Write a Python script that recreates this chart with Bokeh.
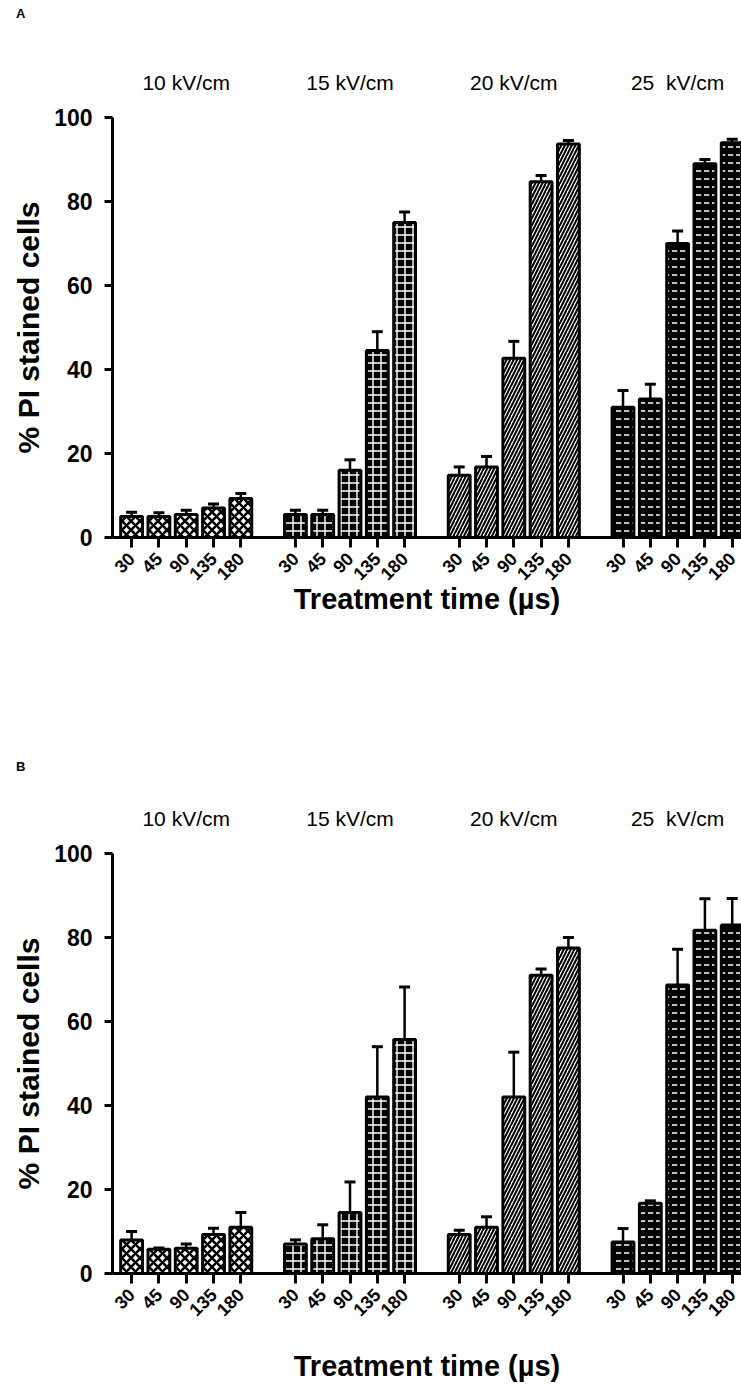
import math
from bokeh.plotting import figure
from bokeh.models import Range1d, FixedTicker, ColumnDataSource, Whisker, TeeHead, LinearAxis, Div
from bokeh.layouts import column
from bokeh.embed import file_html
from bokeh.resources import INLINE

# ---------------- data ----------------
fields = ["10 kV/cm", "15 kV/cm", "20 kV/cm", "25\u00a0 kV/cm"]
times = ["30", "45", "90", "135", "180"]

# Panel A: % PI stained cells (mean) and error
a_10 = [5.0, 5.0, 5.5, 7.0, 9.3]
a_10_err = [1.0, 0.9, 1.0, 1.0, 1.2]
a_15 = [5.5, 5.5, 16.0, 44.5, 75.0]
a_15_err = [1.0, 1.0, 2.5, 4.5, 2.5]
a_20 = [14.8, 16.8, 42.7, 84.7, 93.7]
a_20_err = [2.0, 2.5, 4.0, 1.5, 0.8]
a_25 = [31.0, 33.0, 70.0, 89.0, 94.0]
a_25_err = [4.0, 3.5, 3.0, 1.0, 0.8]

# Panel B
b_10 = [8.0, 5.8, 6.0, 9.3, 11.0]
b_10_err = [2.0, 0.3, 1.0, 1.5, 3.5]
b_15 = [7.0, 8.3, 14.5, 42.0, 55.7]
b_15_err = [1.0, 3.3, 7.3, 12.0, 12.5]
b_20 = [9.3, 11.0, 42.0, 71.0, 77.5]
b_20_err = [1.0, 2.5, 10.7, 1.5, 2.5]
b_25 = [7.5, 16.7, 68.7, 81.7, 83.0]
b_25_err = [3.2, 0.6, 8.5, 7.5, 6.3]

y_ticks = [0, 20, 40, 60, 80, 100]

styles = [
    dict(fill_color="white", hatch_pattern="diagonal_cross", hatch_color="black", hatch_weight=2.6, hatch_scale=9),
    dict(fill_color="black", hatch_pattern="cross", hatch_color="white", hatch_weight=1.4, hatch_scale=8),
    dict(fill_color="white", hatch_pattern="right_diagonal_line", hatch_color="black", hatch_weight=2.0, hatch_scale=7),
    dict(fill_color="black", hatch_pattern="horizontal_dash", hatch_color="white", hatch_weight=1.5, hatch_scale=8),
]

FONT = "Liberation Sans"
n_t = len(times)
slot = n_t + 1


def letter_div(letter, height, top):
    html = (f'<span style="position:absolute; left:16px; top:{top}px; '
            f'font-family:\'{FONT}\'; font-weight:bold; font-size:13px; '
            f'line-height:15px; color:black;">{letter}</span>')
    return Div(text=html, width=120, height=height, margin=(0, 0, 0, 0))


def make_panel(groups, errs, height, top, bottom, xlabel_standoff):
    p = figure(width=741, height=height, output_backend="svg", toolbar_location=None,
               x_range=Range1d(-0.7, 22.34), y_range=Range1d(0, 100),
               min_border_left=112, min_border_right=0, min_border_top=top,
               min_border_bottom=bottom)
    p.xgrid.visible = False
    p.ygrid.visible = False
    p.outline_line_color = None
    p.background_fill_color = "white"

    xa = p.below[0]
    ya = p.left[0]

    tick_pos = []
    overrides = {}
    grp_pos = []
    grp_over = {}
    for g, (vals, err) in enumerate(zip(groups, errs)):
        xs = [g * slot + i for i in range(n_t)]
        tops = [v + e for v, e in zip(vals, err)]
        src = ColumnDataSource(dict(x=xs, top=vals, up=tops))
        p.vbar(x="x", top="top", bottom=0, width=0.8, source=src,
               line_color="black", line_width=3, **styles[g])
        w = Whisker(base="x", lower="top", upper="up", source=src, dimension="height",
                    line_color="black", line_width=2.5, level="overlay",
                    upper_head=TeeHead(size=11, line_width=3, line_color="black"),
                    lower_head=None)
        p.add_layout(w)
        for x, t in zip(xs, times):
            tick_pos.append(x)
            overrides[x] = t
        c = (xs[0] + xs[-1]) // 2
        grp_pos.append(c)
        grp_over[c] = fields[g]

    # group labels on top
    top_ax = LinearAxis(ticker=FixedTicker(ticks=grp_pos), major_label_overrides=grp_over,
                        axis_line_color=None, major_tick_line_color=None,
                        minor_tick_line_color=None, major_label_standoff=18,
                        major_label_text_font=FONT, major_label_text_font_size="21px",
                        major_label_text_color="black")
    p.add_layout(top_ax, "above")

    xa.ticker = FixedTicker(ticks=tick_pos)
    xa.major_label_overrides = overrides
    xa.major_label_orientation = math.pi / 4
    xa.major_label_text_font = FONT
    xa.major_label_text_font_style = "bold"
    xa.major_label_text_font_size = "18px"
    xa.major_label_text_color = "black"
    xa.major_label_standoff = 8
    xa.axis_line_width = 3
    xa.axis_line_color = "black"
    xa.major_tick_line_width = 3
    xa.major_tick_out = 10
    xa.major_tick_in = 0
    xa.minor_tick_line_color = None
    xa.axis_label = "Treatment time (µs)"
    xa.axis_label_text_font = FONT
    xa.axis_label_text_font_style = "bold"
    xa.axis_label_text_font_size = "29px"
    xa.axis_label_text_color = "black"
    xa.axis_label_standoff = xlabel_standoff

    ya.ticker = FixedTicker(ticks=y_ticks)
    ya.major_label_text_font = FONT
    ya.major_label_text_font_style = "bold"
    ya.major_label_text_font_size = "23px"
    ya.major_label_text_color = "black"
    ya.major_label_standoff = 12
    ya.axis_line_width = 3
    ya.axis_line_color = "black"
    ya.major_tick_line_width = 3
    ya.major_tick_out = 8
    ya.major_tick_in = 0
    ya.minor_tick_line_color = None
    ya.axis_label = "% PI stained cells"
    ya.axis_label_text_font = FONT
    ya.axis_label_text_font_style = "bold"
    ya.axis_label_text_font_size = "30px"
    ya.axis_label_text_color = "black"
    ya.axis_label_standoff = 6
    return p


div_a = letter_div("A", 30, 6)
pa = make_panel([a_10, a_15, a_20, a_25], [a_10_err, a_15_err, a_20_err, a_25_err], 706, 87, 199, -6)
div_b = letter_div("B", 40, 23)
pb = make_panel([b_10, b_15, b_20, b_25], [b_10_err, b_15_err, b_20_err, b_25_err], 608, 77, 111, 25)

layout = column(div_a, pa, div_b, pb, spacing=0)
open("out.html", "w").write(file_html(layout, INLINE))
